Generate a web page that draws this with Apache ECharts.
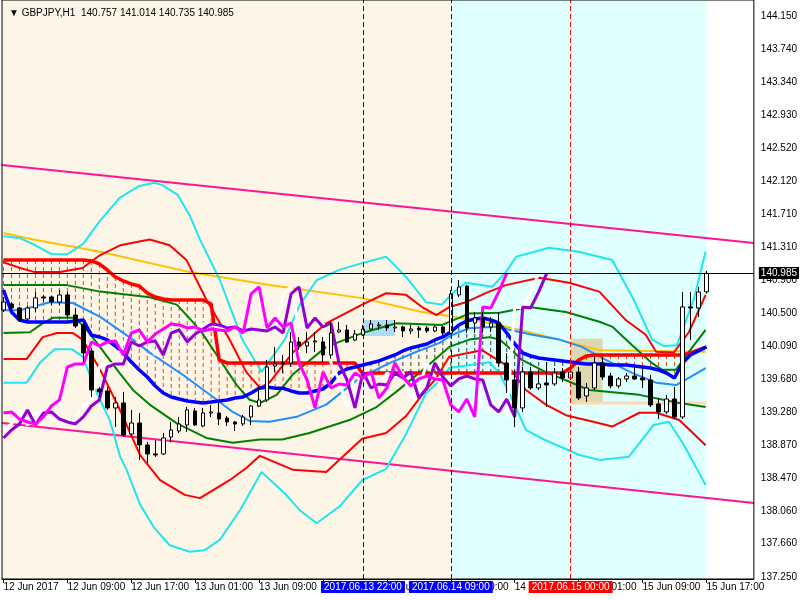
<!DOCTYPE html>
<html><head><meta charset="utf-8">
<script src="https://cdn.jsdelivr.net/npm/echarts@6/dist/echarts.min.js"></script>
<style>html,body{margin:0;padding:0;background:#fff}#c{width:800px;height:600px}</style>
</head><body><div id="c"></div>
<script>
// ---- candles (bar index 0 = 12 Jun 2017 01:00, hourly) ----
const opens = [140.534,140.608,140.559,140.423,140.559,140.694,140.694,140.632,140.719,140.472,
140.350,140.030,139.562,139.538,139.329,139.390,139.009,139.144,138.874,138.763,
138.763,138.972,139.046,139.120,139.292,139.107,139.267,139.267,139.205,139.156,
139.132,139.218,139.353,139.427,139.845,139.882,139.882,140.141,140.091,140.141,
140.141,139.981,140.263,140.288,140.165,140.227,140.300,140.337,140.350,140.313,
140.325,140.276,140.313,140.313,140.276,140.325,140.251,140.719,140.829,140.374,
140.436,140.325,140.374,139.882,139.673,139.329,139.771,139.575,139.636,139.624,
139.771,139.698,139.771,139.476,139.575,139.882,139.722,139.600,139.686,139.722,
139.698,139.673,139.378,139.280,139.439,139.218,140.571,140.559,140.757];
const highs = [140.694,140.632,140.571,140.583,140.756,140.719,140.706,140.780,140.756,140.559,
140.374,140.067,139.587,139.587,139.464,139.526,139.304,139.267,138.911,138.935,
139.021,139.156,139.218,139.341,139.329,139.329,139.366,139.403,139.230,139.169,
139.242,139.366,139.575,139.919,140.079,139.981,140.263,140.202,140.263,140.263,
140.202,140.386,140.386,140.350,140.288,140.350,140.411,140.386,140.411,140.411,
140.340,140.350,140.337,140.337,140.350,140.337,140.780,140.903,140.841,140.509,
140.509,140.448,140.509,140.005,139.796,139.833,139.833,139.796,139.894,139.820,
139.820,139.833,139.833,139.636,139.968,139.956,139.759,139.710,139.759,139.833,
139.820,139.734,139.452,139.489,139.587,140.756,140.756,140.817,141.014];
const lows = [140.509,140.509,140.386,140.386,140.509,140.632,140.595,140.595,140.436,140.313,
139.894,139.464,139.464,139.304,139.095,138.972,138.972,138.689,138.652,138.726,
138.751,138.907,139.021,139.033,139.107,139.092,139.218,139.120,139.107,139.046,
139.107,139.120,139.341,139.402,139.771,139.759,139.833,140.042,140.005,140.018,
139.894,139.936,140.251,140.128,140.153,140.214,140.288,140.288,140.276,140.263,
140.202,140.239,140.190,140.251,140.263,140.227,140.239,140.694,140.251,140.251,
140.251,140.263,139.833,139.513,139.095,139.279,139.550,139.550,139.341,139.600,
139.649,139.673,139.427,139.402,139.550,139.673,139.571,139.571,139.649,139.673,
139.575,139.341,139.193,139.255,139.193,139.193,140.165,140.448,140.735];
const closes = [140.632,140.559,140.411,140.559,140.682,140.682,140.632,140.719,140.472,140.337,
140.005,139.550,139.526,139.329,139.390,138.997,139.144,138.874,138.763,138.751,
138.960,139.058,139.132,139.304,139.120,139.267,139.280,139.193,139.156,139.132,
139.218,139.353,139.427,139.833,139.870,139.870,140.141,140.091,140.141,140.153,
139.981,140.251,140.288,140.141,140.239,140.300,140.362,140.350,140.313,140.325,
140.276,140.300,140.288,140.276,140.325,140.251,140.731,140.817,140.313,140.436,
140.325,140.374,139.882,139.673,139.329,139.771,139.575,139.624,139.612,139.759,
139.698,139.771,139.452,139.575,139.882,139.710,139.600,139.686,139.722,139.686,
139.673,139.366,139.280,139.439,139.218,140.571,140.559,140.756,140.985];

// ---- thick step lines (per bar) ----
const thickRed = [141.149,141.149,141.149,141.149,141.149,141.149,141.149,141.149,141.149,141.149,
141.149,141.137,141.100,141.026,140.940,140.891,140.854,140.829,140.743,140.694,
140.669,140.657,140.657,140.657,140.657,140.657,140.608,139.919,139.882,139.882,
139.882,139.882,139.882,139.882,139.882,139.882,139.882,139.882,139.882,139.882,
139.882,139.882,139.882,139.882,139.882,139.747,139.759,139.759,139.759,139.759,
139.759,139.759,139.759,139.759,139.759,139.759,139.759,139.759,139.759,139.759,
139.759,139.759,139.759,139.759,139.759,139.759,139.759,139.759,139.759,139.759,
139.759,139.821,139.919,139.969,139.981,139.981,139.981,139.981,139.981,139.981,
139.981,139.981,139.981,139.981,139.981,139.981,140.005,140.042,140.079];
const thickBlue = [140.780,140.509,140.411,140.386,140.386,140.386,140.386,140.386,140.386,140.398,
140.411,140.226,140.202,140.165,140.091,140.005,139.894,139.796,139.710,139.599,
139.513,139.464,139.439,139.415,139.402,139.390,139.402,139.415,139.427,139.452,
139.464,139.513,139.571,139.587,139.571,139.571,139.538,139.513,139.513,139.538,
139.562,139.636,139.759,139.808,139.833,139.858,139.882,139.907,139.944,139.981,
140.030,140.067,140.091,140.116,140.165,140.202,140.263,140.349,140.398,140.423,
140.435,140.411,140.374,140.251,140.116,140.005,139.968,139.944,139.931,139.919,
139.907,139.894,139.882,139.870,139.870,139.870,139.858,139.858,139.858,139.845,
139.833,139.821,139.796,139.759,139.698,139.882,139.981,140.030,140.079];

// ---- lagging lines (start at bar 0) ----
const magentaLag = [139.267,139.280,139.193,139.156,139.132,139.218,139.353,139.427,139.833,139.870,
139.870,140.141,140.091,140.141,140.153,139.981,140.251,140.288,140.141,140.239,
140.300,140.362,140.350,140.313,140.325,140.276,140.300,140.288,140.276,140.325,
140.251,140.731,140.817,140.313,140.436,140.325,140.374,139.882,139.673,139.329,
139.771,139.575,139.624,139.612,139.759,139.698,139.771,139.452,139.575,139.882,
139.710,139.600,139.686,139.722,139.686,139.673,139.366,139.280,139.439,139.218,
140.571,140.559,140.756,140.985];
const purpleLag = [138.960,139.058,139.132,139.304,139.120,139.267,139.280,139.193,139.156,139.132,
139.218,139.353,139.427,139.833,139.870,139.870,140.141,140.091,140.141,140.153,
139.981,140.251,140.288,140.141,140.239,140.300,140.362,140.350,140.313,140.325,
140.276,140.300,140.288,140.276,140.325,140.251,140.731,140.817,140.313,140.436,
140.325,140.374,139.882,139.673,139.329,139.771,139.575,139.624,139.612,139.759,
139.698,139.771,139.452,139.575,139.882,139.710,139.600,139.686,139.722,139.686,
139.673,139.366,139.280,139.439,139.218,140.571,140.559,140.756,140.985];
const whiteLag = [139.058,139.132,139.304,139.120,139.267,139.280,139.193,139.156,139.132,
139.218,139.353,139.427,139.833,139.870,139.870,140.141,140.091,140.141,140.153,
139.981,140.251,140.288,140.141,140.239,140.300,140.362,140.350,140.313,140.325,
140.276,140.300,140.288,140.276,140.325,140.251,140.731,140.817,140.313,140.436,
140.325,140.374,139.882,139.673,139.329,139.771,139.575,139.624,139.612,139.759,
139.698,139.771,139.452,139.575,139.882,139.710,139.600,139.686,139.722,139.686,
139.673,139.366,139.280,139.439,139.218,140.571,140.559,140.756,140.985];

// ---- band lines [barIndex, price] ----
const cyanUpper = [[0,141.44],[2,141.42],[4,141.33],[6,141.22],[8,141.22],[10,141.35],[12,141.62],[14.5,141.91],[17,142.06],[18.9,142.10],[19.9,142.07],[21.8,141.95],[23.3,141.70],[24.6,141.40],[27.1,140.90],[29.9,140.17],[32.3,139.77],[35.2,140.17],[37.1,140.60],[39.2,140.90],[42.1,141.03],[44.9,141.11],[47.9,141.19],[50.4,140.94],[52.9,140.63],[54.9,140.60],[56.2,140.74],[57.9,140.87],[61.2,140.82],[62.9,141.00],[64.2,141.19],[68.3,141.30],[72,141.25],[76.2,141.15],[78.9,140.66],[81.2,140.17],[82.7,140.09],[84.3,140.10],[86.4,140.66],[87.9,141.25]];
const cyanLower = [[0,139.64],[2.9,139.64],[4.6,139.89],[6.4,140.05],[8.6,140.05],[9.9,139.96],[11.7,139.51],[13.3,139.18],[14.6,138.73],[15.4,138.57],[17.1,138.14],[18.9,137.85],[20.8,137.64],[23.3,137.56],[25.2,137.58],[27.1,137.71],[29.6,138.07],[32.3,138.54],[35.2,138.28],[37.1,138.07],[39.2,137.91],[42.1,138.12],[44.9,138.44],[47.9,138.58],[50.4,139.01],[52.9,139.51],[54.9,139.69],[55.8,139.82],[58.7,139.86],[60.8,139.89],[62.1,139.76],[63.7,139.43],[65.4,139.06],[67.7,138.94],[72.1,138.75],[74.6,138.69],[78.3,138.73],[81.4,139.12],[83.3,139.16],[85.2,138.87],[87.9,138.38]];
const redUpper = [[0,141.12],[2.1,141.05],[3.9,141.00],[7.1,141.00],[9.9,141.05],[12.1,141.21],[14.6,141.33],[18.3,141.40],[20.8,141.33],[22.9,141.15],[25.4,140.66],[28.3,140.17],[30.4,139.77],[32.1,139.58],[33.3,139.64],[36.2,140.01],[40.4,140.37],[44.9,140.60],[47.9,140.74],[50.4,140.72],[52.4,140.57],[54.2,140.47],[55.8,140.57],[57.9,140.63],[60.8,140.76],[62.9,140.84],[67.1,140.93],[70.8,140.87],[74.6,140.76],[77.9,140.41],[80.4,140.23],[81.7,140.02],[83.9,140.01],[85.8,140.26],[87.9,140.72]];
const redLower = [[0,139.93],[2.9,139.93],[4.9,140.20],[6.7,140.25],[8.7,140.25],[9.9,140.17],[12.1,139.80],[14.6,139.30],[17.1,138.75],[19.6,138.44],[22.7,138.26],[24.6,138.22],[28.3,138.44],[30.4,138.59],[32.1,138.74],[36.2,138.57],[40.4,138.54],[44.9,138.95],[47.9,139.02],[50.4,139.23],[52.4,139.49],[54.2,139.70],[55.8,139.96],[59.9,140.04],[63.3,139.83],[65.4,139.55],[67.9,139.37],[70.4,139.24],[74.6,139.14],[76.2,139.10],[79.6,139.27],[81.7,139.27],[84.6,139.18],[87.9,138.87]];
const greenUpper = [[0,140.84],[7.9,140.84],[12.1,140.76],[18.3,140.69],[21.7,140.60],[24.6,140.29],[26.7,139.98],[29.2,139.61],[30.8,139.43],[32.1,139.39],[34.2,139.49],[36.2,139.74],[40.4,140.08],[44.9,140.25],[49.2,140.37],[54.9,140.35],[58.3,140.49],[62.1,140.50],[65.8,140.57],[70.4,140.51],[74.6,140.39],[76.2,140.33],[78.7,140.10],[81.2,139.88],[82.4,139.80],[84.2,139.80],[85.8,140.02],[87.9,140.29]];
const greenLower = [[0,140.25],[3.3,140.26],[4.9,140.37],[6.2,140.44],[8.7,140.44],[9.9,140.35],[11.7,140.13],[14.2,139.80],[16.2,139.55],[18.3,139.37],[21.7,139.14],[25.4,138.96],[28.7,138.90],[32.1,138.94],[34.9,138.94],[38.3,139.02],[43.3,139.18],[46.7,139.34],[49.2,139.53],[52.9,139.83],[55.8,140.08],[58.3,140.17],[60.8,140.20],[62.1,140.17],[63.3,140.07],[64.9,139.92],[67.9,139.77],[70.4,139.67],[73.3,139.55],[79.6,139.49],[84.6,139.39],[87.9,139.34]];
const midLine = [[0,140.53],[2.1,140.53],[5.8,140.63],[8.7,140.62],[12.1,140.45],[16.2,140.17],[18.3,140.01],[22.4,139.74],[26.7,139.43],[28.7,139.28],[30.8,139.17],[33.3,139.16],[36.7,139.22],[40.4,139.37],[44.6,139.70],[48.3,139.88],[51.7,140.02],[54.6,140.13],[56.2,140.23],[58.3,140.31],[62.1,140.33],[63.3,140.29],[66.2,140.23],[69.6,140.17],[72.4,140.08],[75.4,139.92],[78.7,139.76],[81.7,139.64],[84.2,139.61],[85.8,139.70],[87.9,139.82]];
const goldLine = [[0,141.48],[3.7,141.40],[12.1,141.25],[23.3,141.00],[33.3,140.84],[44.9,140.68],[52.4,140.51],[55.8,140.46],[62.1,140.35],[68.3,140.20],[74.6,140.04],[87.9,140.02]];
const channelUpper = [[-0.1875,142.317],[93.9375,141.358]];
const channelLower = [[-0.1875,139.144],[93.9375,138.160]];

// ---- boxes & levels ----
const blueBox = {from:45, to:49, top:140.411, bottom:140.214};
const tanBox = {from:71, to:75, top:140.18, bottom:139.39};
const peachLevel = {from:71, to:88, price:139.39};
const lastPrice = 140.985;
const vLines = [{bar:45, text:'2017.06.13 22:00', color:'#0000ff'},
                {bar:56, text:'2017.06.14 09:00', color:'#0000ff'},
                {bar:71, text:'2017.06.15 00:00', color:'#ff0000'}];

// ---- axes ----
const yTicks = [144.150,143.740,143.340,142.930,142.520,142.120,141.710,141.310,140.900,140.500,140.090,139.680,139.280,138.870,138.470,138.060,137.660,137.250];
const xTickBars = [0,8,16,24,32,40,48,56,64,72,80,88];
const xTickLabels = ['12 Jun 2017','12 Jun 09:00','12 Jun 17:00','13 Jun 01:00','13 Jun 09:00','13 Jun 17:00','14 Jun 01:00','14 Jun 09:00','14 Jun 17:00','15 Jun 01:00','15 Jun 09:00','15 Jun 17:00'];

const FONT = "'Liberation Sans','DejaVu Sans',sans-serif";
const chart = echarts.init(document.getElementById('c'), null, {renderer:'canvas'});

const candleData = opens.map((o,i)=>[i,o,closes[i],lows[i],highs[i]]);
const hatchData = thickRed.map((r,i)=>[i,r,thickBlue[i]]);
const idx = a => a.map((v,i)=>[i,v]);

function line(data, color, width, z){
  return {type:'line', data, showSymbol:false, symbol:'none', silent:true, z:z||3,
    lineStyle:{color, width}, animation:false, clip:true};
}

chart.setOption({
  animation:false,
  backgroundColor:'#ffffff',
  title:{text:'\u25BC GBPJPY,H1  140.757 141.014 140.735 140.985', left:4, top:3,
    textStyle:{fontSize:10, fontWeight:'normal', color:'#000', fontFamily:FONT}},
  grid:{left:2, top:0, width:753, height:579, show:true, backgroundColor:'transparent',
    borderColor:'#000', borderWidth:1, z:10},
  xAxis:{type:'value', min:-0.1875, max:93.9375, position:'bottom',
    axisLine:{show:true, lineStyle:{color:'#000'}},
    axisTick:{show:true, customValues:xTickBars, length:4, lineStyle:{color:'#000'}},
    axisLabel:{customValues:xTickBars, align:'left', margin:3, color:'#000', fontSize:10, fontFamily:FONT,
      formatter:v=>{const k=xTickBars.indexOf(Math.round(v)); return k>=0?xTickLabels[k]:'';}},
    splitLine:{show:false}},
  yAxis:{type:'value', min:137.225, max:144.347, position:'right',
    axisLine:{show:true, lineStyle:{color:'#000'}},
    axisTick:{show:true, customValues:yTicks, length:4, lineStyle:{color:'#000'}},
    axisLabel:{customValues:yTicks, margin:7, color:'#000', fontSize:10, fontFamily:FONT,
      formatter:v=>v.toFixed(3)},
    splitLine:{show:false}},
  series:[
    {type:'line', data:[], silent:true, z:1,
      markArea:{silent:true, data:[
        [{xAxis:-0.1875, itemStyle:{color:'#fdf5e6'}},{xAxis:56}],
        [{xAxis:56, itemStyle:{color:'#e0ffff'}},{xAxis:88}]
      ]}},
    {type:'line', data:[], silent:true, z:1,
      markArea:{silent:true, data:[
        [{xAxis:blueBox.from, yAxis:blueBox.top, itemStyle:{color:'#aedcf2'}},{xAxis:blueBox.to, yAxis:blueBox.bottom}],
        [{xAxis:tanBox.from, yAxis:tanBox.top, itemStyle:{color:'#ddd8b0'}},{xAxis:tanBox.to, yAxis:tanBox.bottom}]
      ]}},
    line([[peachLevel.from,peachLevel.price],[peachLevel.to,peachLevel.price]], '#ffd9b0', 3, 2),
    {type:'custom', data:hatchData, encode:{x:0,y:[1,2]}, silent:true, z:2,
      renderItem:(params, api)=>{
        const i=api.value(0), r=api.value(1), b=api.value(2);
        const p1=api.coord([i,r]), p2=api.coord([i,b]);
        return {type:'line', shape:{x1:p1[0],y1:p1[1],x2:p2[0],y2:p2[1]},
          style:{stroke: r>b?'#ff4000':'#2f3f3f', lineWidth:1, lineDash:[4,3]}};
      }},
    line(goldLine, '#ffc000', 2),
    line(channelUpper, '#ff1493', 2),
    line(channelLower, '#ff1493', 2),
    line(cyanUpper, '#1ee6f0', 2),
    line(cyanLower, '#1ee6f0', 2),
    line(redUpper, '#ff0000', 2),
    line(redLower, '#ff0000', 2),
    line(greenUpper, '#008000', 2),
    line(greenLower, '#008000', 2),
    line(midLine, '#1e90ff', 2),
    line(idx(thickRed), '#ff0000', 3.5),
    line(idx(thickBlue), '#0000ff', 3.5),
    line(idx(whiteLag), '#ffffff', 3),
    line(idx(purpleLag), '#9400d3', 3),
    line(idx(magentaLag), '#ff00ff', 3),
    {type:'candlestick', data:candleData, encode:{x:0, y:[1,2,3,4]}, barWidth:4, z:4, silent:true,
      itemStyle:{color:'#ffffff', color0:'#000000', borderColor:'#000000', borderColor0:'#000000', borderWidth:1}},
    {type:'line', data:[], silent:true, z:5,
      markLine:{silent:true, symbol:['none','none'], animation:false,
        data: vLines.map(v=>({xAxis:v.bar, lineStyle:{color:v.color, type:[5,3], width:1},
          label:{show:true, position:'start', formatter:v.text, backgroundColor:v.color, color:'#fff',
            padding:[1,3,1,3], distance:2, fontSize:10, fontFamily:FONT}}))
        .concat([{yAxis:lastPrice, lineStyle:{color:'#000', type:'solid', width:1},
          label:{show:true, position:'end', formatter:lastPrice.toFixed(3), backgroundColor:'#000', color:'#fff',
            padding:[1,2,1,2], distance:5, fontSize:10, fontFamily:FONT}}])
      }}
  ]
});
</script></body></html>
